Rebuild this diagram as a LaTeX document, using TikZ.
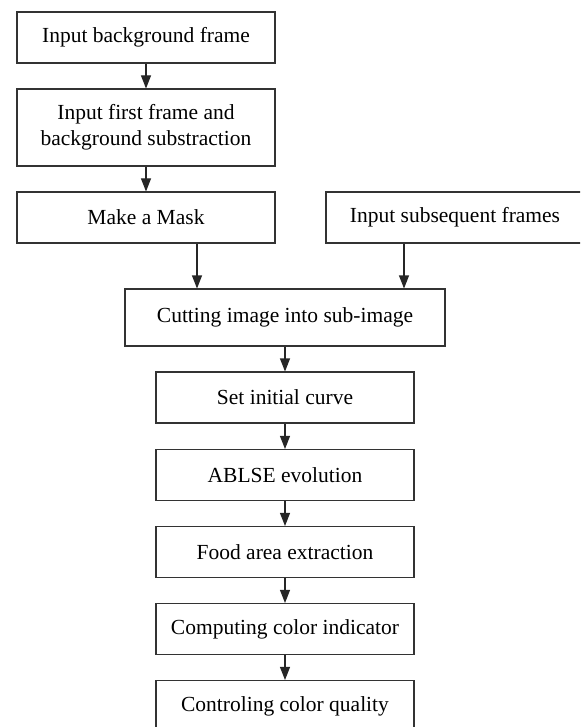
\documentclass[tikz,border=0pt]{standalone}
\usepackage{fontspec}
\setmainfont{Liberation Serif}
\usepackage{tikz}
\usetikzlibrary{arrows.meta}
\tikzset{
every picture/.style={line width=1.1pt, >={Triangle[length=13pt,width=10pt]}},
%%%%%%%%%%  Node styles
stepbox/.style={draw=black!80, rectangle, minimum width=258pt, minimum height=51pt,
                inner sep=0pt, align=center, font=\fontsize{21.5}{26}\selectfont},
widebox/.style={stepbox, minimum width=320pt, minimum height=57pt},
%%%%%%%% connectors
flow/.style={->, draw=black!85}
}

\begin{document}
\begin{tikzpicture}[x=1pt,y=-1pt]
\useasboundingbox (0,0) rectangle (580,727);
\clip (0,0) rectangle (580,727);
%%left column
\node[stepbox] (bg) at (146,37.5) {Input background frame};
\node[stepbox, minimum height=77pt] (first) at (146,127.5) {Input first frame and\\background substraction};
\node[stepbox] (mask) at (146,217.5) {Make a Mask};
%%right column
\node[stepbox] (subs) at (455,217.5) {Input subsequent frames};
%%main column
\node[widebox] (cut) at (285,317.5) {Cutting image into sub-image};
\node[stepbox] (init) at (285,397.5) {Set initial curve};
\node[stepbox] (ablse) at (285,475) {ABLSE evolution};
\node[stepbox] (food) at (285,552) {Food area extraction};
\node[stepbox] (color) at (285,629) {Computing color indicator};
\node[stepbox] (quality) at (285,706) {Controling color quality};
%%arrows
\draw[flow] (bg) -- (first);
\draw[flow] (first) -- (mask);
\draw[flow] ([xshift=51pt]mask.south) -- ([xshift=51pt]mask.south |- cut.north);
\draw[flow] ([xshift=-51pt]subs.south) -- ([xshift=-51pt]subs.south |- cut.north);
\draw[flow] (cut) -- (init);
\draw[flow] (init) -- (ablse);
\draw[flow] (ablse) -- (food);
\draw[flow] (food) -- (color);
\draw[flow] (color) -- (quality);
\end{tikzpicture}
\end{document}
